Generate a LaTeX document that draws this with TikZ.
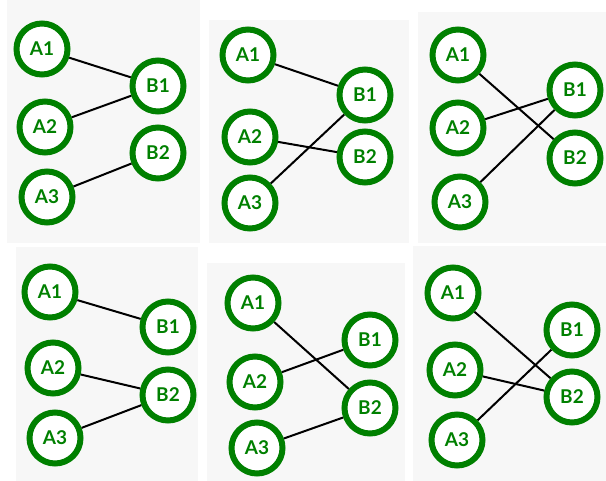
\documentclass[tikz,border=0pt]{standalone}
\usepackage{fontspec}
\setmainfont{Lato}
\usetikzlibrary{automata,positioning}
\definecolor{ringgreen}{RGB}{0,128,0}
\definecolor{panelgray}{RGB}{247,247,247}
\tikzset{vert/.style={state,draw=ringgreen,line width=6pt,fill=white,minimum size=51pt,inner sep=0pt,text=ringgreen,font=\fontsize{19}{19}\selectfont\bfseries}}
\tikzset{panel/.style={fill=panelgray,draw=none}}
\tikzset{link/.style={line width=2pt,draw=black}}

\begin{document}
\begin{tikzpicture}[x=1pt,y=-1pt]
    \useasboundingbox (0,0) rectangle (606,481);
    % panels
    \fill[panel] (7,0) rectangle (200,243);
    \fill[panel] (209,20) rectangle (409,243);
    \fill[panel] (418,12) rectangle (606,243);
    \fill[panel] (16,247) rectangle (198,481);
    \fill[panel] (207,263) rectangle (405,481);
    \fill[panel] (413,246) rectangle (606,481);
    % top row
    \node[vert] (p1a1) at (42,49)   {A1};
    \node[vert] (p1a2) at (45,127)  {A2};
    \node[vert] (p1a3) at (47,197)  {A3};
    \node[vert] (p1b1) at (158,86)  {B1};
    \node[vert] (p1b2) at (158,153) {B2};
    \path[link]
        (p1a1) edge (p1b1)
        (p1a2) edge (p1b1)
        (p1a3) edge (p1b2)
        ;
    \node[vert] (p2a1) at (248,55)  {A1};
    \node[vert] (p2a2) at (250,137) {A2};
    \node[vert] (p2a3) at (250,203) {A3};
    \node[vert] (p2b1) at (365,95)  {B1};
    \node[vert] (p2b2) at (365,157) {B2};
    \path[link]
        (p2a1) edge (p2b1)
        (p2a2) edge (p2b2)
        (p2a3) edge (p2b1)
        ;
    \node[vert] (p3a1) at (458,55)  {A1};
    \node[vert] (p3a2) at (458,128) {A2};
    \node[vert] (p3a3) at (460,202) {A3};
    \node[vert] (p3b1) at (575,90)  {B1};
    \node[vert] (p3b2) at (575,158) {B2};
    \path[link]
        (p3a1) edge (p3b2)
        (p3a2) edge (p3b1)
        (p3a3) edge (p3b1)
        ;
    % bottom row
    \node[vert] (p4a1) at (50,292)  {A1};
    \node[vert] (p4a2) at (53,368)  {A2};
    \node[vert] (p4a3) at (55,438)  {A3};
    \node[vert] (p4b1) at (168,327) {B1};
    \node[vert] (p4b2) at (168,395) {B2};
    \path[link]
        (p4a1) edge (p4b1)
        (p4a2) edge (p4b2)
        (p4a3) edge (p4b2)
        ;
    \node[vert] (p5a1) at (253,303) {A1};
    \node[vert] (p5a2) at (255,382) {A2};
    \node[vert] (p5a3) at (257,448) {A3};
    \node[vert] (p5b1) at (370,340) {B1};
    \node[vert] (p5b2) at (370,408) {B2};
    \path[link]
        (p5a1) edge (p5b2)
        (p5a2) edge (p5b1)
        (p5a3) edge (p5b2)
        ;
    \node[vert] (p6a1) at (453,293) {A1};
    \node[vert] (p6a2) at (455,370) {A2};
    \node[vert] (p6a3) at (457,440) {A3};
    \node[vert] (p6b1) at (572,330) {B1};
    \node[vert] (p6b2) at (572,397) {B2};
    \path[link]
        (p6a1) edge (p6b2)
        (p6a2) edge (p6b2)
        (p6a3) edge (p6b1)
        ;
\end{tikzpicture}
\end{document}
